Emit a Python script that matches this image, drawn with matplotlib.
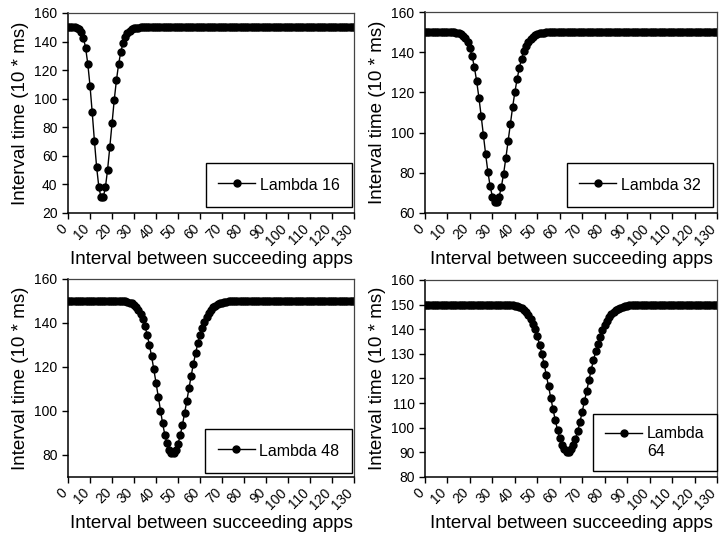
import matplotlib
matplotlib.use("Agg")
import matplotlib.pyplot as plt
import matplotlib.transforms as mtransforms

plt.rcParams['font.family'] = ['Liberation Sans', 'DejaVu Sans']

# x: interval between succeeding apps (0..130)
x_vals = list(range(0, 131))

y_lambda16 = [
    150, 150, 150,
    149.9, 149.6, 148.8, 146.9, 142.8, 135.6, 124.4, 109.1, 90.5, 70.6,
    52.3, 38.4, 30.9, 30.9, 37.9, 50.4, 66.1, 82.9, 98.9, 112.8,
    124.1, 132.8, 139.0, 143.2, 146.0, 147.7, 148.7, 149.3, 149.7, 149.8,
    149.9,
    150, 150, 150, 150, 150, 150, 150, 150, 150, 150,
    150, 150, 150, 150, 150, 150, 150, 150, 150, 150,
    150, 150, 150, 150, 150, 150, 150, 150, 150, 150,
    150, 150, 150, 150, 150, 150, 150, 150, 150, 150,
    150, 150, 150, 150, 150, 150, 150, 150, 150, 150,
    150, 150, 150, 150, 150, 150, 150, 150, 150, 150,
    150, 150, 150, 150, 150, 150, 150, 150, 150, 150,
    150, 150, 150, 150, 150, 150, 150, 150, 150, 150,
    150, 150, 150, 150, 150, 150, 150, 150, 150, 150,
    150, 150, 150, 150, 150, 150, 150,
]

y_lambda32 = [
    150, 150, 150, 150, 150, 150, 150, 150, 150, 150,
    150, 150, 150,
    149.9, 149.8, 149.6, 149.1, 148.3, 147.1, 145.1, 142.1, 137.9, 132.4,
    125.6, 117.4, 108.3, 98.7, 89.2, 80.5, 73.3, 68.2, 65.6, 65.6,
    68.1, 73.0, 79.6, 87.4, 95.9, 104.4, 112.6, 120.1, 126.6, 132.2,
    136.8, 140.4, 143.1, 145.2, 146.8, 147.8, 148.6, 149.1, 149.4, 149.7,
    149.8, 149.9, 149.9,
    150, 150, 150, 150, 150, 150, 150, 150, 150, 150,
    150, 150, 150, 150, 150, 150, 150, 150, 150, 150,
    150, 150, 150, 150, 150, 150, 150, 150, 150, 150,
    150, 150, 150, 150, 150, 150, 150, 150, 150, 150,
    150, 150, 150, 150, 150, 150, 150, 150, 150, 150,
    150, 150, 150, 150, 150, 150, 150, 150, 150, 150,
    150, 150, 150, 150, 150, 150, 150, 150, 150, 150,
    150, 150, 150, 150, 150,
]

y_lambda48 = [
    150, 150, 150, 150, 150, 150, 150, 150, 150, 150,
    150, 150, 150, 150, 150, 150, 150, 150, 150, 150,
    150, 150, 150, 150,
    149.9, 149.9, 149.8, 149.6, 149.3, 148.9, 148.2, 147.3, 145.9, 144.0,
    141.6, 138.5, 134.6, 130.0, 124.8, 119.0, 112.8, 106.4, 100.2, 94.4,
    89.3, 85.3, 82.5, 81.0, 81.0, 82.4, 85.1, 88.9, 93.6, 99.0,
    104.6, 110.4, 116.1, 121.4, 126.3, 130.8, 134.6, 137.9, 140.6, 142.9,
    144.6, 146.0, 147.1, 147.9, 148.5, 149.0, 149.3, 149.5, 149.7, 149.8,
    149.9, 149.9, 149.9,
    150, 150, 150, 150, 150, 150, 150, 150, 150, 150,
    150, 150, 150, 150, 150, 150, 150, 150, 150, 150,
    150, 150, 150, 150, 150, 150, 150, 150, 150, 150,
    150, 150, 150, 150, 150, 150, 150, 150, 150, 150,
    150, 150, 150, 150, 150, 150, 150, 150, 150, 150,
    150, 150, 150, 150,
]

y_lambda64 = [
    150, 150, 150, 150, 150, 150, 150, 150, 150, 150,
    150, 150, 150, 150, 150, 150, 150, 150, 150, 150,
    150, 150, 150, 150, 150, 150, 150, 150, 150, 150,
    150, 150, 150, 150, 150, 150,
    149.9, 149.9, 149.8, 149.7, 149.6, 149.3, 149.0, 148.5, 147.9, 146.9,
    145.8, 144.2, 142.3, 139.9, 137.1, 133.8, 130.1, 126.0, 121.5, 116.8,
    112.1, 107.5, 103.1, 99.1, 95.7, 93.0, 91.2, 90.2, 90.2, 91.2,
    92.9, 95.5, 98.7, 102.4, 106.5, 110.8, 115.1, 119.4, 123.6, 127.4,
    131.0, 134.2, 137.0, 139.5, 141.6, 143.4, 144.8, 146.0, 147.0, 147.7,
    148.3, 148.7, 149.1, 149.3, 149.5, 149.7, 149.8, 149.8, 149.9, 149.9,
    150, 150, 150, 150, 150, 150, 150, 150, 150, 150,
    150, 150, 150, 150, 150, 150, 150, 150, 150, 150,
    150, 150, 150, 150, 150, 150, 150, 150, 150, 150,
    150, 150, 150, 150, 150,
]

series_y = [y_lambda16, y_lambda32, y_lambda48, y_lambda64]
series_labels = ["Lambda 16", "Lambda 32", "Lambda 48", "Lambda\n64"]
x_ticks = list(range(0, 131, 10))
y_ticks = [list(range(20, 161, 20)), list(range(60, 161, 20)),
           list(range(80, 161, 20)), list(range(80, 161, 10))]
y_limits = [(20, 160), (60, 160), (70, 160), (80, 160)]
x_label = "Interval between succeeding apps"
y_label = "Interval time (10 * ms)"

for ys in series_y:
    assert len(ys) == len(x_vals), len(ys)

W, H = 720, 537
fig = plt.figure(figsize=(W / 100, H / 100), dpi=100)
boxes = [(68, 13, 354, 213), (425, 12, 717, 213), (68, 279, 354, 477), (425, 280, 717, 477)]
leg_anchor = [(0.993, 0.03), (0.986, 0.03), (0.993, 0.02), (1.0, 0.03)]

for i in range(4):
    l, t, r, b = boxes[i]
    ax = fig.add_axes([l / W, 1 - b / H, (r - l) / W, (b - t) / H])
    ax.plot(x_vals, series_y[i], color='black', lw=1, marker='o', ms=5,
            label=series_labels[i])
    ax.set_xlim(0, 130)
    ax.set_ylim(*y_limits[i])
    ax.set_xticks(x_ticks)
    ax.set_yticks(y_ticks[i])
    ax.tick_params(labelsize=10, length=4, width=1, direction='out', colors='black')
    off = mtransforms.ScaledTranslation(-3 / 100, -3 / 100, fig.dpi_scale_trans)
    for lab in ax.get_xticklabels():
        lab.set_rotation(45)
        lab.set_rotation_mode('anchor')
        lab.set_ha('right')
        lab.set_va('center')
        lab.set_transform(lab.get_transform() + off)
    for s in ['left', 'bottom']:
        ax.spines[s].set_linewidth(1.1)
        ax.spines[s].set_color('black')
    for s in ['top', 'right']:
        ax.spines[s].set_linewidth(0.9)
        ax.spines[s].set_color('#444444')
    ax.set_xlabel(x_label, fontsize=13.5, labelpad=2)
    ax.set_ylabel(y_label, fontsize=13.5, labelpad=4)
    leg = ax.legend(loc='lower right', bbox_to_anchor=leg_anchor[i], fontsize=11.5,
                    fancybox=False, framealpha=1, edgecolor='black', borderpad=0.78,
                    handlelength=2.3, handletextpad=0.3, handleheight=1.5,
                    borderaxespad=0)
    leg.get_frame().set_linewidth(1)
    if i == 3:
        h = leg.legend_handles[0]
        h.set_ydata([v + 5.5 for v in h.get_ydata()])

fig.savefig("out.png", dpi=100)
